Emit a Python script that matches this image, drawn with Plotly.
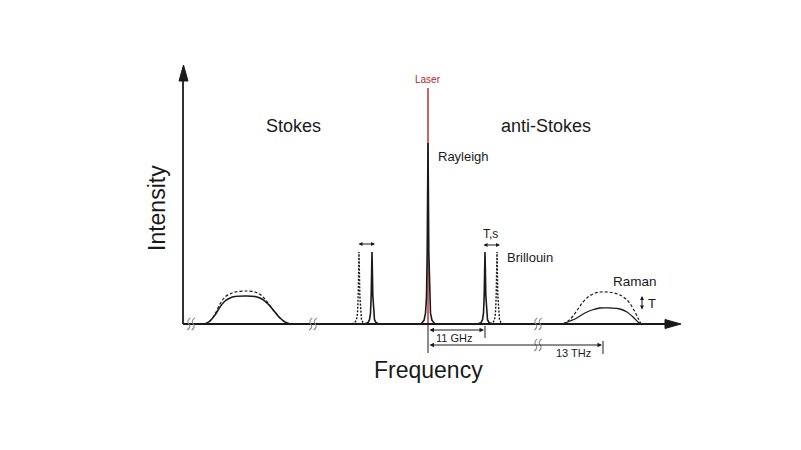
import plotly.graph_objects as go

# ---------------- data (schematic units: x ~ frequency position, y ~ intensity) ----------------
# Stokes Raman band
RAMAN_S_X = [205, 210, 215, 220, 225, 230, 235, 245, 255, 262, 268, 274, 280, 285, 290]
RAMAN_S_SOLID = [0, 3, 9, 17, 23, 26, 27.5, 28, 27.5, 25, 20, 13, 6, 2, 0]
RAMAN_S_DASH = [0, 3, 10, 20, 27, 30, 32, 33, 32, 28, 21, 13, 6, 2, 0]
# anti-Stokes Raman band
RAMAN_AS_X_DASH = [563, 568, 573, 578, 583, 588, 594, 600, 607, 614, 620, 626, 631, 635, 638, 641]
RAMAN_AS_DASH = [0, 3, 8, 15, 22, 27, 30.5, 32, 32, 31, 29, 25, 19, 12, 6, 0]
RAMAN_AS_X_SOLID = [563, 570, 575, 580, 585, 592, 600, 610, 620, 627, 633, 638, 641]
RAMAN_AS_SOLID = [0, 3, 5, 8, 11, 14, 16, 16, 15, 12, 7, 2, 0]
# Brillouin / Rayleigh line positions and heights
BRILLOUIN_SOLID_POS = [372, 485]
BRILLOUIN_DASH_POS = [359, 497]
BRILLOUIN_HEIGHT = 72
RAYLEIGH_POS = 428
RAYLEIGH_HEIGHT = 181
LASER_HEIGHT = 236
# narrow line profile (offset, fraction of peak height)
PEAK_DX = [-7, -4, -2.5, -1.5, -0.8, -0.3, 0, 0.3, 0.8, 1.5, 2.5, 4, 7]
PEAK_FRAC = [0, 0.02, 0.06, 0.15, 0.4, 0.8, 1, 0.8, 0.4, 0.15, 0.06, 0.02, 0]
# axis-break positions (x, y)
BREAK_X = [191, 313, 538, 538]
BREAK_Y = [0, 0, 0, -21]

FONT = "Liberation Sans, Arial, sans-serif"
INK = "#1a1a1a"
RED = "#b3262b"
GREY = "#8a8a8a"

fig = go.Figure()

def peak(c, h):
    return [c + d for d in PEAK_DX], [h * f for f in PEAK_FRAC]

# laser line (red) under the Rayleigh peak
fig.add_trace(go.Scatter(x=[RAYLEIGH_POS, RAYLEIGH_POS], y=[0, LASER_HEIGHT], mode="lines",
                         line=dict(color=RED, width=1.4), hoverinfo="skip"))
px, py = peak(RAYLEIGH_POS, RAYLEIGH_HEIGHT)
fig.add_trace(go.Scatter(x=px, y=py, mode="lines", line=dict(color=INK, width=1.6), hoverinfo="skip"))

for c in BRILLOUIN_SOLID_POS:
    px, py = peak(c, BRILLOUIN_HEIGHT)
    fig.add_trace(go.Scatter(x=px, y=py, mode="lines", line=dict(color=INK, width=1.6), hoverinfo="skip"))
for c in BRILLOUIN_DASH_POS:
    px, py = peak(c, BRILLOUIN_HEIGHT)
    fig.add_trace(go.Scatter(x=px, y=py, mode="lines", line=dict(color=INK, width=1.4, dash="2px,1.5px"),
                             hoverinfo="skip"))

fig.add_trace(go.Scatter(x=RAMAN_S_X, y=RAMAN_S_DASH, mode="lines", line=dict(color=INK, width=1.2, dash="3px,2px"),
                         line_shape="spline", hoverinfo="skip"))
fig.add_trace(go.Scatter(x=RAMAN_S_X, y=RAMAN_S_SOLID, mode="lines", line=dict(color=INK, width=1.6),
                         line_shape="spline", hoverinfo="skip"))
fig.add_trace(go.Scatter(x=RAMAN_AS_X_DASH, y=RAMAN_AS_DASH, mode="lines", line=dict(color=INK, width=1.2, dash="3px,2px"),
                         line_shape="spline", hoverinfo="skip"))
fig.add_trace(go.Scatter(x=RAMAN_AS_X_SOLID, y=RAMAN_AS_SOLID, mode="lines", line=dict(color=INK, width=1.3),
                         line_shape="spline", hoverinfo="skip"))

shapes = []
# axes
shapes.append(dict(type="line", x0=183, y0=0, x1=183, y1=248, line=dict(color=INK, width=1.8)))
shapes.append(dict(type="path", path="M 183.5 259 L 179 243 L 188 243 Z", fillcolor=INK, line=dict(color=INK, width=1)))
shapes.append(dict(type="line", x0=183, y0=0, x1=670, y1=0, line=dict(color=INK, width=1.8)))
shapes.append(dict(type="path", path="M 681 0 L 665 4.5 L 665 -4.5 Z", fillcolor=INK, line=dict(color=INK, width=1)))
# ticks for the distance brackets
shapes.append(dict(type="line", x0=428, y0=-1, x1=428, y1=-29, line=dict(color=INK, width=1)))
shapes.append(dict(type="line", x0=485, y0=-2, x1=485, y1=-14, line=dict(color=INK, width=1)))
shapes.append(dict(type="line", x0=603, y0=-17, x1=603, y1=-30, line=dict(color=INK, width=1)))
# axis-break squiggles (two small wavy strokes each)
for bx, by in zip(BREAK_X, BREAK_Y):
    for off in (-2.2, 2.2):
        x = bx + off
        p = (f"M {x+1.5} {by+6} Q {x-2.5} {by+3} {x} {by} "
             f"Q {x+2.5} {by-3} {x-1.5} {by-6}")
        shapes.append(dict(type="path", path=p, line=dict(color=GREY, width=1.1)))
fig.update_layout(shapes=shapes)

def text(x, y, s, size, color=INK, angle=0):
    fig.add_annotation(x=x, y=y, text=s, showarrow=False, textangle=angle,
                       font=dict(family=FONT, size=size, color=color), xanchor="center", yanchor="middle")

def darrow(x0, y0, x1, y1, size=0.8):
    fig.add_annotation(x=x1, y=y1, ax=x0, ay=y0, axref="x", ayref="y", xref="x", yref="y",
                       text="", showarrow=True, arrowhead=2, arrowside="end+start",
                       arrowsize=size, arrowwidth=1, arrowcolor=INK)

# labels
text(157, 116, "Intensity", 23, angle=-90)
text(428, -46, "Frequency", 23)
text(293, 198, "Stokes", 18)
text(546, 198, "anti-Stokes", 18)
text(428, 245, "Laser", 10, color=RED)
text(463, 168, "Rayleigh", 13)
text(490, 90, "T,s", 12)
text(530, 67, "Brillouin", 13)
text(635, 43, "Raman", 13.5)
text(652, 21, "T", 13)
text(454, -14, "11 GHz", 11)
text(573, -29, "13 THz", 11)

# double arrows
darrow(357, 80, 375, 80)
darrow(482, 79, 500, 79)
darrow(642, 13, 642, 28)
darrow(428, -6, 484, -6, 0.9)
darrow(428, -21, 602, -21, 0.9)

# the page body adds an 8 px margin, so the figure is 16 px smaller and the ranges are offset
fig.update_layout(
    width=785, height=434, autosize=False,
    margin=dict(l=0, r=0, t=0, b=0),
    paper_bgcolor="white", plot_bgcolor="white",
    showlegend=False,
    xaxis=dict(range=[8, 793], visible=False, fixedrange=True),
    yaxis=dict(range=[-118, 316], visible=False, fixedrange=True),
)

fig.write_html("out.html")
